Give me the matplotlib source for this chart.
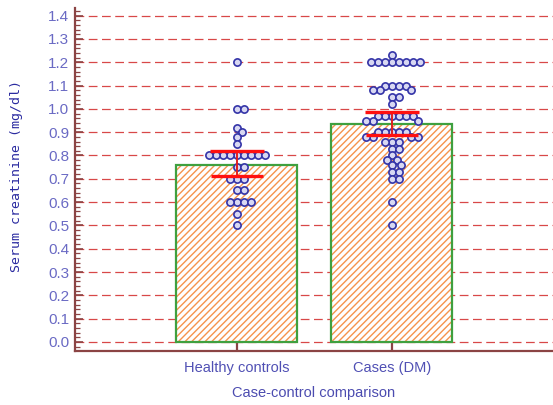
import numpy as np
import matplotlib.pyplot as plt
from matplotlib.ticker import MultipleLocator

# serum creatinine (mg/dl) per subject
healthy = [1.2, 1.0, 1.0, 0.92, 0.9, 0.88, 0.85,
           0.8, 0.8, 0.8, 0.8, 0.8, 0.8, 0.8, 0.8, 0.8,
           0.75, 0.75, 0.7, 0.7, 0.7, 0.65, 0.65,
           0.6, 0.6, 0.6, 0.6, 0.55, 0.5]
cases = [1.23, 1.2, 1.2, 1.2, 1.2, 1.2, 1.2, 1.2, 1.2,
         1.1, 1.1, 1.1, 1.1, 1.08, 1.08, 1.08, 1.05, 1.05, 1.02,
         0.97, 0.97, 0.97, 0.97, 0.97, 0.97, 0.95, 0.95, 0.95,
         0.9, 0.9, 0.9, 0.9, 0.9, 0.88, 0.88, 0.88, 0.88,
         0.86, 0.86, 0.86, 0.83, 0.83, 0.8, 0.78, 0.78,
         0.76, 0.76, 0.73, 0.73, 0.7, 0.7, 0.6, 0.5]

groups = ['Healthy controls', 'Cases (DM)']
bar_means = [0.76, 0.935]
ci_low = [0.71, 0.886]
ci_high = [0.82, 0.985]

blue = '#3434a8'
spine_col = '#8b4444'

fig = plt.figure(figsize=(5.53, 4.05), dpi=100)
ax = fig.add_axes([75 / 553, 54 / 405, 1 - 75 / 553, (351 - 8) / 405])

x_px_per_unit = 155.0
y_px_per_unit = 233.0
ax.set_xlim(-1.045, 2.04)
ax.set_ylim(-0.039, 1.433)


def swarm(values, diam=7.0, overlap=0.78):
    # simple beeswarm: each point gets the smallest horizontal offset free of overlap
    placed = []
    offsets = []
    for v in values:
        yp = v * y_px_per_unit
        best = None
        for k in range(0, 60):
            for sgn in ([0] if k == 0 else [1, -1]):
                xp = sgn * k * diam / 3
                ok = all((xp - px) ** 2 + (yp - py) ** 2 >= (diam * overlap) ** 2
                         for px, py in placed)
                if ok:
                    best = xp
                    break
            if best is not None:
                break
        placed.append((best, yp))
        offsets.append(best / x_px_per_unit)
    return np.array(offsets)


# dashed gridlines
for yv in np.arange(0, 1.41, 0.1):
    ax.axhline(yv, color='#d84848', lw=0.9, dashes=(7, 3.6), zorder=1)

xpos = np.arange(len(groups))
ax.bar(xpos, bar_means, width=0.78, color='white', edgecolor='#f5944c',
       hatch='/////', linewidth=0, zorder=2)
ax.bar(xpos, bar_means, width=0.78, fill=False, edgecolor='#3fa03f',
       linewidth=1.6, zorder=3)

for i, vals in enumerate([healthy, cases]):
    order = np.argsort(vals)[::-1]
    v = np.array(vals)[order]
    off = swarm(v)
    ax.plot(i + off, v, 'o', ms=5.2, mfc='#d8d8f2', mec=blue, mew=1.2,
            zorder=4, linestyle='none')

# confidence interval of the mean
ax.vlines(xpos, ci_low, ci_high, color='#e02020', lw=1.4, zorder=5)
ax.hlines(ci_low, xpos - 0.17, xpos + 0.17, color='#ff1010', lw=2.4, zorder=5)
ax.hlines(ci_high, xpos - 0.175, xpos + 0.175, color='#ff1010', lw=2.4, zorder=5)

for s in ['top', 'right']:
    ax.spines[s].set_visible(False)
for s in ['left', 'bottom']:
    ax.spines[s].set_color(spine_col)
    ax.spines[s].set_linewidth(1.6)

tick_font = ['Liberation Sans', 'DejaVu Sans']
ax.yaxis.set_minor_locator(MultipleLocator(0.02))
ax.set_yticks(np.arange(0, 1.41, 0.1))
ax.set_yticklabels([f'{t:.1f}' for t in np.arange(0, 1.41, 0.1)],
                   family=tick_font, fontsize=11, color='#6a6ac4')
ax.tick_params(axis='y', which='major', direction='in', length=6, width=1.2,
               color=spine_col, pad=4)
ax.tick_params(axis='y', which='minor', direction='in', length=3.5, width=0.9,
               color=spine_col)

ax.set_xticks(xpos)
ax.set_xticklabels(groups, family=tick_font, fontsize=10.5, color='#5050b4')
ax.tick_params(axis='x', direction='in', length=6.5, width=1.6,
               color=spine_col, pad=7)

ax.set_xlabel('Case-control comparison', family=tick_font, fontsize=10.5,
              color='#4c4cb0', labelpad=8)
fig.text(17 / 553, 1 - 176 / 405, 'Serum creatinine (mg/dl)', rotation=90,
         ha='center', va='center', family='DejaVu Sans Mono', fontsize=9.5,
         color='#2a2aa0')

fig.savefig('out.png', dpi=100)
